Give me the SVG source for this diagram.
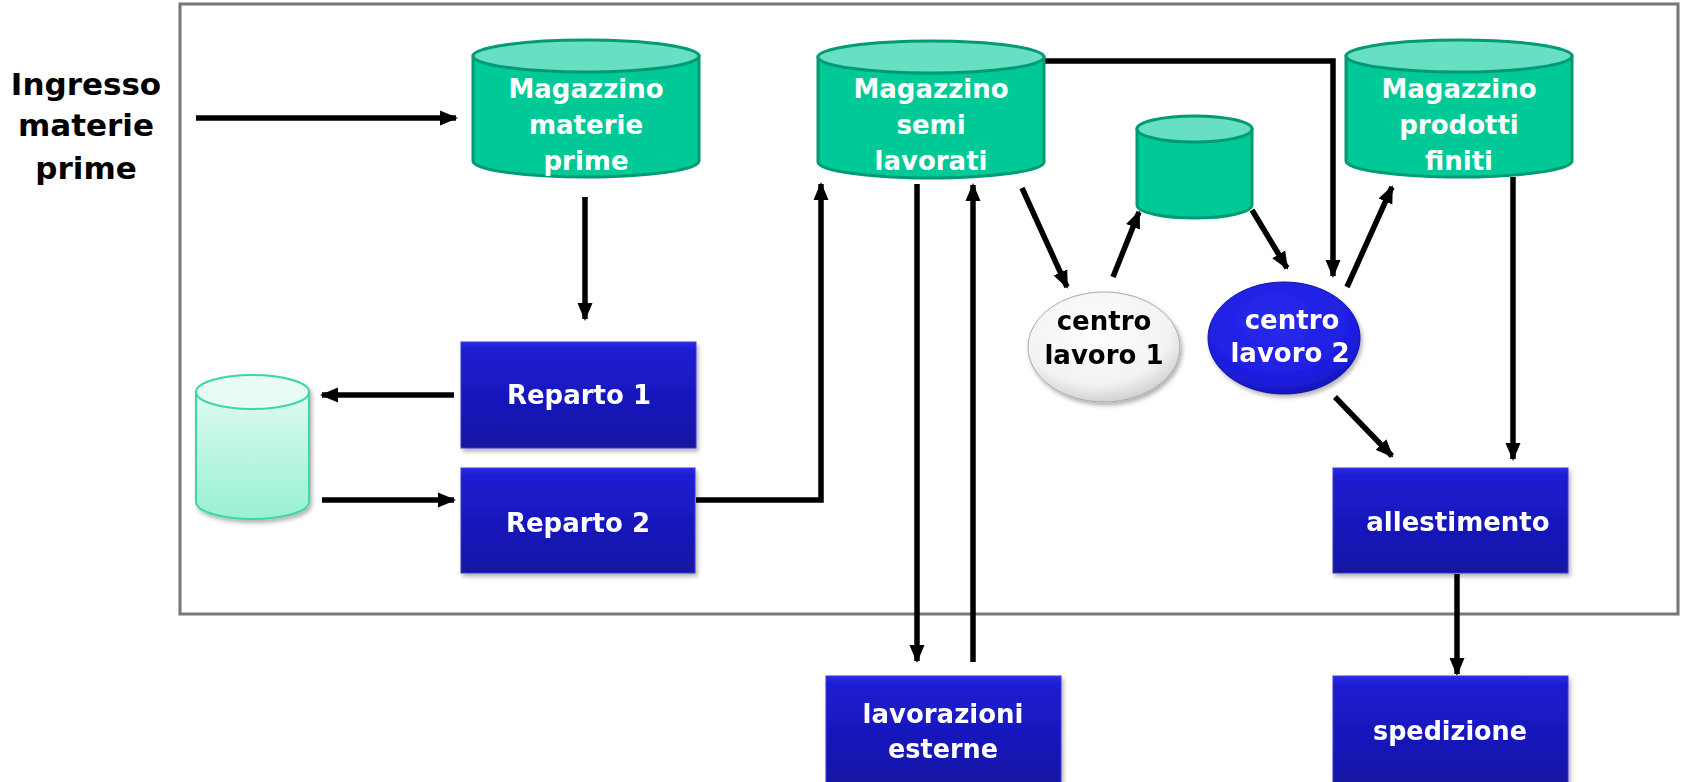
<svg xmlns="http://www.w3.org/2000/svg" width="1682" height="782" viewBox="0 0 1682 782">
  <defs>
    <style>
      .lbl { font-family: "DejaVu Sans", Verdana, sans-serif; font-weight: bold; text-anchor: middle; }
      .wt { fill: #ffffff; font-size: 26px; }
      .bk { fill: #000000; font-size: 26px; }
      .cyl { fill: #00c998; stroke: #009a74; stroke-width: 3; }
      .cyltop { fill: #66dfc2; stroke: #009a74; stroke-width: 3; }
      .box { fill: url(#boxGrad); stroke: #3a3ad8; stroke-width: 1; }
      .conn { fill: none; stroke: #000000; stroke-width: 5.5; }
    </style>
    <linearGradient id="boxGrad" x1="0" y1="0" x2="0" y2="1">
      <stop offset="0" stop-color="#2a2ae6"/>
      <stop offset="0.08" stop-color="#1c1cd2"/>
      <stop offset="0.9" stop-color="#1616aa"/>
      <stop offset="1" stop-color="#12129a"/>
    </linearGradient>
    <linearGradient id="lightCyl" x1="0" y1="0" x2="0" y2="1">
      <stop offset="0" stop-color="#ddfbf1"/>
      <stop offset="1" stop-color="#98f0d4"/>
    </linearGradient>
    <radialGradient id="whiteEll" cx="0.45" cy="0.35" r="0.7">
      <stop offset="0" stop-color="#ffffff"/>
      <stop offset="0.7" stop-color="#f2f2f2"/>
      <stop offset="1" stop-color="#c8c8c8"/>
    </radialGradient>
    <radialGradient id="blueEll" cx="0.45" cy="0.35" r="0.7">
      <stop offset="0" stop-color="#2a2af0"/>
      <stop offset="0.75" stop-color="#1e1ee0"/>
      <stop offset="1" stop-color="#1414b0"/>
    </radialGradient>
    <filter id="shadow" x="-10%" y="-10%" width="125%" height="130%">
      <feDropShadow dx="2" dy="3" stdDeviation="2" flood-color="#000000" flood-opacity="0.3"/>
    </filter>
    <marker id="arrow" markerUnits="userSpaceOnUse" markerWidth="18" markerHeight="18" viewBox="0 0 18 18" refX="16" refY="9" orient="auto">
      <path d="M0,1.5 L18,9 L0,16.5 Z" fill="#000000"/>
    </marker>
  </defs>

  <rect width="1682" height="782" fill="#ffffff"/>

  <!-- plant boundary -->
  <rect id="plant" x="180" y="4" width="1498" height="610" fill="none" stroke="#777777" stroke-width="3"/>

  <!-- connectors -->
  <g id="connectors" class="conn" marker-end="url(#arrow)">
    <line x1="196" y1="118" x2="456" y2="118"/>
    <line x1="585" y1="197" x2="585" y2="319"/>
    <line x1="454" y1="395" x2="322" y2="395"/>
    <line x1="322" y1="500" x2="454" y2="500"/>
    <polyline points="696,500 821,500 821,184"/>
    <line x1="917" y1="184" x2="917" y2="661"/>
    <line x1="973" y1="662" x2="973" y2="185"/>
    <line x1="1022" y1="188" x2="1067" y2="287"/>
    <line x1="1113" y1="277" x2="1139" y2="212"/>
    <line x1="1252" y1="210" x2="1287" y2="268"/>
    <polyline points="1044,61 1333,61 1333,276"/>
    <line x1="1347" y1="287" x2="1392" y2="187"/>
    <line x1="1335" y1="397" x2="1392" y2="456"/>
    <line x1="1513" y1="177" x2="1513" y2="459"/>
    <line x1="1457" y1="574" x2="1457" y2="674"/>
  </g>

  <!-- external input -->
  <g id="ingresso" class="lbl" fill="#000000" font-size="31">
    <text x="86" y="95">Ingresso</text>
    <text x="86" y="136">materie</text>
    <text x="86" y="179">prime</text>
  </g>

  <!-- warehouses -->
  <g id="mag-materie">
    <path class="cyl" d="M473,56 L473,161 A113,16 0 0 0 699,161 L699,56 Z"/>
    <ellipse class="cyltop" cx="586" cy="56" rx="113" ry="16"/>
    <text class="lbl wt" x="586" y="98">Magazzino</text>
    <text class="lbl wt" x="586" y="134">materie</text>
    <text class="lbl wt" x="586" y="170">prime</text>
  </g>

  <g id="mag-semi">
    <path class="cyl" d="M818,57 L818,162 A113,16 0 0 0 1044,162 L1044,57 Z"/>
    <ellipse class="cyltop" cx="931" cy="57" rx="113" ry="16"/>
    <text class="lbl wt" x="931" y="98">Magazzino</text>
    <text class="lbl wt" x="931" y="134">semi</text>
    <text class="lbl wt" x="931" y="170">lavorati</text>
  </g>

  <g id="mag-prodotti">
    <path class="cyl" d="M1346,56 L1346,161 A113,16 0 0 0 1572,161 L1572,56 Z"/>
    <ellipse class="cyltop" cx="1459" cy="56" rx="113" ry="16"/>
    <text class="lbl wt" x="1459" y="98">Magazzino</text>
    <text class="lbl wt" x="1459" y="134">prodotti</text>
    <text class="lbl wt" x="1459" y="170">finiti</text>
  </g>

  <g id="buffer">
    <path class="cyl" d="M1137,129 L1137,205 A57.5,13 0 0 0 1252,205 L1252,129 Z"/>
    <ellipse class="cyltop" cx="1194.5" cy="129" rx="57.5" ry="13"/>
  </g>

  <g id="buffer-reparti" filter="url(#shadow)">
    <path d="M196,392 L196,502 A56.5,17 0 0 0 309,502 L309,392 Z" fill="url(#lightCyl)" stroke="#3dd6a6" stroke-width="2"/>
    <ellipse cx="252.5" cy="392" rx="56.5" ry="17" fill="#e6fcf5" stroke="#3dd6a6" stroke-width="2"/>
  </g>

  <!-- departments -->
  <g id="reparto1" filter="url(#shadow)">
    <rect class="box" x="461" y="342" width="235" height="106"/>
    <text class="lbl wt" x="579" y="404">Reparto 1</text>
  </g>

  <g id="reparto2" filter="url(#shadow)">
    <rect class="box" x="461" y="468" width="234" height="105"/>
    <text class="lbl wt" x="578" y="532">Reparto 2</text>
  </g>

  <g id="centro1" filter="url(#shadow)">
    <ellipse cx="1104" cy="347" rx="76" ry="55" fill="url(#whiteEll)" stroke="#aaaaaa" stroke-width="1"/>
    <text class="lbl bk" x="1104" y="330">centro</text>
    <text class="lbl bk" x="1104" y="364">lavoro 1</text>
  </g>

  <g id="centro2" filter="url(#shadow)">
    <ellipse cx="1284" cy="338" rx="76" ry="56" fill="url(#blueEll)" stroke="#1010a0" stroke-width="1"/>
    <text class="lbl wt" x="1292" y="329">centro</text>
    <text class="lbl wt" x="1290" y="362">lavoro 2</text>
  </g>

  <g id="allestimento" filter="url(#shadow)">
    <rect class="box" x="1333" y="468" width="235" height="105"/>
    <text class="lbl wt" x="1458" y="531">allestimento</text>
  </g>

  <g id="lavorazioni" filter="url(#shadow)">
    <rect class="box" x="826" y="676" width="235" height="110"/>
    <text class="lbl wt" x="943" y="723" font-size="28" textLength="161" lengthAdjust="spacingAndGlyphs">lavorazioni</text>
    <text class="lbl wt" x="943" y="758" font-size="28" textLength="110" lengthAdjust="spacingAndGlyphs">esterne</text>
  </g>

  <g id="spedizione" filter="url(#shadow)">
    <rect class="box" x="1333" y="676" width="235" height="110"/>
    <text class="lbl wt" x="1450" y="740" font-size="28" textLength="154" lengthAdjust="spacingAndGlyphs">spedizione</text>
  </g>
</svg>
